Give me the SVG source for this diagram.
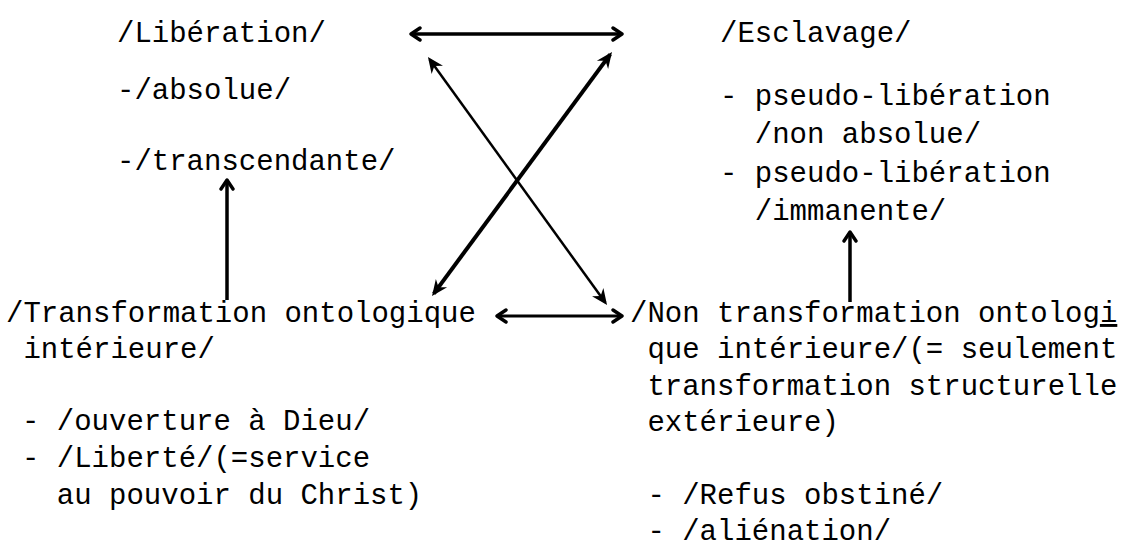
<svg xmlns="http://www.w3.org/2000/svg" width="1135" height="547" viewBox="0 0 1135 547">
  <style>
    text { font-family: "Liberation Mono", "DejaVu Sans Mono", monospace; font-size: 29px; fill: #000; white-space: pre; }
    .c { fill: none; stroke: #000; stroke-linecap: butt; }
  </style>
  <defs>
    <marker id="chev" viewBox="-12 -8 14 16" markerWidth="14" markerHeight="16" refX="0" refY="0" orient="auto-start-reverse" markerUnits="userSpaceOnUse">
      <path d="M-9,-6 L0,0 L-9,6" fill="none" stroke="#000" stroke-width="3.4" stroke-linecap="round" stroke-linejoin="round"/>
    </marker>
    <marker id="barb" viewBox="-18 -9 20 18" markerWidth="20" markerHeight="18" refX="-3" refY="0" orient="auto-start-reverse" markerUnits="userSpaceOnUse">
      <path d="M-16,-7 L0,0 L-16,7 L-11,0 z" fill="#000"/>
    </marker>
  </defs>
  <rect width="1135" height="547" fill="#fff"/>

  <g id="connectors">
    <line class="c" x1="411" y1="34" x2="622" y2="34" stroke-width="3.5" marker-start="url(#chev)" marker-end="url(#chev)"/>
    <line class="c" x1="497" y1="316" x2="622" y2="316" stroke-width="3" marker-start="url(#chev)" marker-end="url(#chev)"/>
    <line class="c" x1="429.7" y1="59.4" x2="605.3" y2="302.6" stroke-width="2.5" marker-start="url(#barb)" marker-end="url(#barb)"/>
    <line class="c" x1="610.2" y1="54.4" x2="433.8" y2="293.6" stroke-width="4" marker-start="url(#barb)" marker-end="url(#barb)"/>
    <line class="c" x1="227" y1="300" x2="227" y2="180" stroke-width="3.5" marker-end="url(#chev)"/>
    <line class="c" x1="850" y1="302" x2="850" y2="232" stroke-width="3.5" marker-end="url(#chev)"/>
  </g>

  <g id="liberation">
    <text x="117" y="42">/Libération/</text>
    <text x="117" y="99">-/absolue/</text>
    <text x="117" y="170">-/transcendante/</text>
  </g>

  <g id="esclavage">
    <text x="720" y="42">/Esclavage/</text>
    <text x="720" y="105">- pseudo-libération</text>
    <text x="720" y="143">  /non absolue/</text>
    <text x="720" y="182">- pseudo-libération</text>
    <text x="720" y="220">  /immanente/</text>
  </g>

  <g id="transformation">
    <text x="6" y="322">/Transformation ontologique</text>
    <text x="6" y="358"> intérieure/</text>
    <text x="22" y="430">- /ouverture à Dieu/</text>
    <text x="22" y="467">- /Liberté/(=service</text>
    <text x="22" y="504">  au pouvoir du Christ)</text>
  </g>

  <g id="non-transformation">
    <text x="630" y="322">/Non transformation ontolog<tspan text-decoration="underline">i</tspan></text>
    <text x="630" y="358"> que intérieure/(= seulement</text>
    <text x="630" y="395"> transformation structurelle</text>
    <text x="630" y="431"> extérieure)</text>
    <text x="630" y="504"> - /Refus obstiné/</text>
    <text x="630" y="540"> - /aliénation/</text>
  </g>
</svg>
